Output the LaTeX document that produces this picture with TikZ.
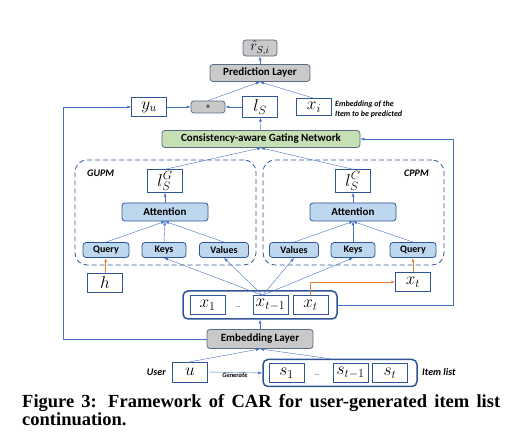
\documentclass[tikz,border=0pt]{standalone}
\usepackage{fontspec}
\setmainfont{Liberation Serif}
\newfontfamily\boxfont{Carlito}
\usetikzlibrary{arrows.meta}

\definecolor{lineblue}{HTML}{4472C4}
\definecolor{darkblue}{HTML}{2F5597}
\definecolor{lightblue}{HTML}{BDD7EE}
\definecolor{greyfill}{HTML}{C9C9C9}
\definecolor{greyedge}{HTML}{5A6B82}
\definecolor{greenfill}{HTML}{C5E0B4}
\definecolor{orangeline}{HTML}{ED7D31}

\begin{document}
\begin{tikzpicture}
		[x=1pt, y=-1pt,
		every node/.style={inner sep=1pt},
		mathbox/.style={draw=darkblue, fill=white, minimum width=35pt, minimum height=19pt, font=\fontsize{17.5}{17.5}\selectfont},
		layer/.style={draw=greyedge, fill=greyfill, rounded corners=3pt, line width=0.8pt, minimum height=17pt, font=\boxfont\bfseries\fontsize{11}{11}\selectfont},
		attbox/.style={layer, fill=lightblue, draw=darkblue},
		smallbox/.style={attbox, minimum height=15pt, font=\boxfont\bfseries\fontsize{10}{10}\selectfont},
		module/.style={draw=darkblue, dash pattern=on 5pt off 3pt, rounded corners=12pt, line width=0.8pt, minimum width=181pt, minimum height=105pt},
		listbox/.style={draw=darkblue, rounded corners=5pt, line width=1.5pt, minimum width=154pt},
		note/.style={font=\boxfont\bfseries\itshape\fontsize{10}{10}\selectfont},
		link/.style={draw=lineblue, -{Latex[length=4pt,width=3pt]}},
		hint/.style={draw=orangeline, line width=0.8pt, -{Latex[length=4pt,width=3pt]}},
		]
		\useasboundingbox (0,0) rectangle (515,438);

		% prediction part
		\node[layer, minimum width=34pt, minimum height=16pt, font=\fontsize{14}{14}\selectfont] (rhat) at (260,48) {$\hat{r}_{S,i}$};
		\node[layer, minimum width=100pt] (pred) at (260,73) {Prediction Layer};
		\node[mathbox] (yu) at (149,107) {$y_u$};
		\node[layer, minimum width=34pt, minimum height=12pt, font=\boxfont\fontsize{9}{9}\selectfont] (plus) at (208,107) {+};
		\node[mathbox, minimum height=21pt] (ls) at (260,107) {$l_S$};
		\node[mathbox, minimum height=17pt] (xi) at (314,107) {$x_i$};
		\node[note, font=\boxfont\bfseries\itshape\fontsize{8}{10}\selectfont, align=left, anchor=west] (xinote) at (334,109) {Embedding of the\\Item to be predicted};
		\node[layer, fill=greenfill, minimum width=198pt] (gate) at (261,139) {Consistency-aware Gating Network};

		% GUPM
		\node[module] (gupm) at (165.5,212.5) {};
		\node[note, anchor=west] (gupmlabel) at (86,173) {GUPM};
		\node[mathbox, minimum height=23pt, inner sep=0pt] (lsg) at (165,181) {$l^{G}_{S}$};
		\node[attbox, minimum width=86pt, minimum height=18pt] (attg) at (165,212) {Attention};
		\node[smallbox, minimum width=46pt] (qg) at (106,250) {Query};
		\node[smallbox, minimum width=44pt] (kg) at (164,250) {Keys};
		\node[smallbox, minimum width=49pt] (vg) at (224,250) {Values};
		\node[mathbox] (h) at (105,283) {$h$};

		% CPPM
		\node[module] (cppm) at (353.5,212.5) {};
		\node[note, anchor=east] (cppmlabel) at (430,173) {CPPM};
		\node[mathbox, minimum height=23pt, inner sep=0pt] (lsc) at (353,181) {$l^{C}_{S}$};
		\node[attbox, minimum width=86pt, minimum height=18pt] (attc) at (353,212) {Attention};
		\node[smallbox, minimum width=49pt] (vc) at (294,250) {Values};
		\node[smallbox, minimum width=44pt] (kc) at (353,250) {Keys};
		\node[smallbox, minimum width=46pt] (qc) at (413,250) {Query};
		\node[mathbox] (xtr) at (413,282) {$x_t$};

		% item embeddings
		\node[listbox, minimum height=28pt] (xrow) at (260,305) {};
		\node[mathbox] (x1) at (207.5,305) {$x_1$};
		\node[font=\fontsize{7}{7}\selectfont] (xdots) at (238,307) {...};
		\node[mathbox, inner sep=0pt] (xtm) at (270.5,305) {$x_{t-1}$};
		\node[mathbox] (xt) at (310.5,305) {$x_t$};
		\coordinate (fan) at ([xshift=-8pt]xtm.north);

		% input
		\node[layer, minimum width=106pt, minimum height=19pt] (emb) at (260,339) {Embedding Layer};
		\node[mathbox, minimum height=20pt] (u) at (190,372) {$u$};
		\node[note, anchor=east] (userlabel) at (167,372) {User};
		\node[listbox, minimum height=27pt] (slist) at (340,373) {};
		\node[mathbox] (s1) at (286.5,373) {$s_1$};
		\node[font=\fontsize{7}{7}\selectfont] (sdots) at (317,375) {...};
		\node[mathbox, inner sep=0pt] (stm) at (350.5,373) {$s_{t-1}$};
		\node[mathbox] (st) at (390,373) {$s_t$};
		\node[note, anchor=west] (listlabel) at (421,372) {Item list};

		% connectors
		\draw[link] (pred.north) -- (rhat.south);
		\draw[link] (plus.north) -- (pred.south);
		\draw[link] (xi.north) -- (pred.south);
		\draw[link] (yu) -- (plus);
		\draw[link] (ls) -- (plus);
		\draw[link] (gate) -- (ls);
		\draw[link] (lsg.north) -- (gate.south);
		\draw[link] (lsc.north) -- (gate.south);
		\draw[link] (attg) -- (lsg);
		\draw[link] (attc) -- (lsc);
		\foreach \k in {qg,kg,vg}
			\draw[link] (\k.north) -- (attg.south);
		\foreach \k in {qc,kc,vc}
			\draw[link] (\k.north) -- (attc.south);
		\foreach \k in {kg,vg,vc,kc}
			\draw[link] (fan) -- (\k.south);
		\draw[hint] (h) -- (qg);
		\draw[hint] (xtr) -- (qc);
		\draw[hint] (xt.north) |- (xtr.west);
		\draw[link] (xrow.east) -- (453,305) |- (gate.east);
		\draw[link] (emb.west) -- (63,339) |- (yu.west);
		\draw[link] (emb) -- (xrow);
		\draw[link] (u.north) -- (emb.south);
		\draw[link] ([xshift=-10pt]slist.north) -- (emb.south);
		\draw[link] (u.east) -- node[below, note, font=\boxfont\bfseries\itshape\fontsize{6.5}{7}\selectfont] {Generate} (slist.west);

		% caption
		\node[anchor=north west, text width=478pt, align=justify, inner sep=0pt, font=\bfseries\fontsize{18.5}{18.5}\selectfont] (caption) at (22,394)
			{Figure 3: Framework of CAR for user-generated item list\linebreak \mbox{continuation.}};
	\end{tikzpicture}
\end{document}
